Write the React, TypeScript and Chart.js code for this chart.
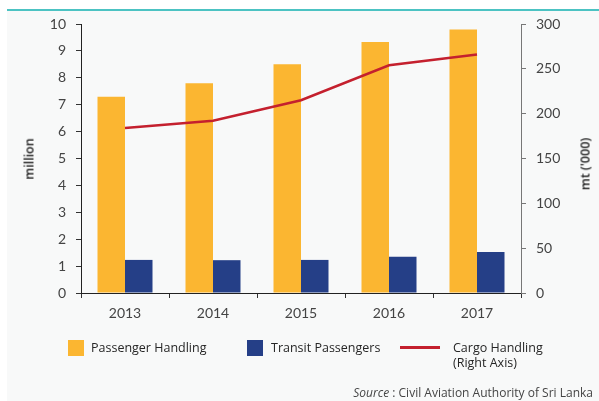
import React, { useEffect, useRef } from "react";
import { Chart, registerables } from "chart.js";

Chart.register(...registerables);

const categories = ["2013", "2014", "2015", "2016", "2017"];
const passengerHandling = [7.3, 7.8, 8.5, 9.33, 9.8];
const transitPassengers = [1.23, 1.22, 1.23, 1.35, 1.52];
const cargoHandling = [184, 192, 215, 254, 266];

const leftMax = 10;
const leftStep = 1;
const rightMax = 300;
const rightStep = 50;

const leftTitle = "million";
const rightTitle = "mt ('000)";
const legendLabels = ["Passenger Handling", "Transit Passengers", "Cargo Handling", "(Right Axis)"];
const sourceLabel = "Source";
const sourceText = " : Civil Aviation Authority of Sri Lanka";

const ORANGE = "#FBB631";
const NAVY = "#253F87";
const RED = "#C4202E";
const TICK_FONT = { family: "Lato, 'DejaVu Sans', sans-serif", size: 14 };
const UI_FONT = "'Open Sans', 'DejaVu Sans', sans-serif";

export default function App() {
  const canvasRef = useRef<HTMLCanvasElement | null>(null);

  useEffect(() => {
    const canvas = canvasRef.current;
    if (!canvas) return;
    const chart = new Chart(canvas, {
      type: "bar",
      data: {
        labels: categories,
        datasets: [
          {
            type: "line",
            label: "Cargo Handling",
            data: cargoHandling,
            yAxisID: "y1",
            borderColor: RED,
            backgroundColor: RED,
            borderWidth: 2.5,
            pointRadius: 0,
            tension: 0,
            order: 0,
          },
          {
            type: "bar",
            label: "Passenger Handling",
            data: passengerHandling,
            yAxisID: "y",
            backgroundColor: ORANGE,
            borderWidth: 0,
            categoryPercentage: 0.625,
            barPercentage: 1,
            order: 1,
          },
          {
            type: "bar",
            label: "Transit Passengers",
            data: transitPassengers,
            yAxisID: "y",
            backgroundColor: NAVY,
            borderWidth: 0,
            categoryPercentage: 0.625,
            barPercentage: 1,
            order: 1,
          },
        ],
      },
      options: {
        responsive: false,
        animation: false,
        devicePixelRatio: 1,
        layout: { padding: { top: 24, bottom: 78, left: 0, right: 0 } },
        plugins: { legend: { display: false }, tooltip: { enabled: false }, title: { display: false } },
        scales: {
          x: {
            offset: true,
            grid: { display: true, drawOnChartArea: false, drawTicks: true, tickLength: 5, color: "#333", offset: true },
            border: { display: true, color: "#222", width: 1 },
            ticks: { color: "#444", font: TICK_FONT, padding: 7, maxRotation: 0 },
            afterFit: (s: any) => { s.height = 30; },
          },
          y: {
            position: "left",
            min: 0,
            max: leftMax,
            ticks: { stepSize: leftStep, color: "#444", font: TICK_FONT, padding: 10 },
            grid: { display: true, drawOnChartArea: false, drawTicks: true, tickLength: 5, color: "#333" },
            border: { display: true, color: "#222", width: 1 },
            afterFit: (s: any) => { s.width = 81; },
          },
          y1: {
            position: "right",
            min: 0,
            max: rightMax,
            ticks: { stepSize: rightStep, color: "#444", font: TICK_FONT, padding: 10 },
            grid: { display: true, drawOnChartArea: false, drawTicks: true, tickLength: 5, color: "#777" },
            border: { display: true, color: "#777", width: 1 },
            afterFit: (s: any) => { s.width = 78; },
          },
        },
      },
    } as any);
    return () => chart.destroy();
  }, []);

  const legendText: React.CSSProperties = {
    position: "absolute",
    fontFamily: UI_FONT,
    fontSize: 12.5,
    color: "#262626",
    lineHeight: "15px",
    whiteSpace: "nowrap",
  };

  return (
    <div style={{ position: "absolute", left: 0, top: 0, width: 599, height: 401, background: "#fff", overflow: "hidden" }}>
      <div
        style={{
          position: "absolute",
          left: 7,
          top: 9,
          width: 592,
          height: 392,
          background: "#F8F9F9",
          borderTop: "2px solid #4CC3C3",
          boxSizing: "border-box",
        }}
      />
      <canvas ref={canvasRef} width={599} height={401} style={{ position: "absolute", left: 0, top: 0, width: 599, height: 401 }} />
      <div
        style={{
          position: "absolute",
          left: 29,
          top: 159,
          transform: "translate(-50%, -50%) rotate(-90deg)",
          fontFamily: UI_FONT,
          fontSize: 12.5,
          fontWeight: 600,
          color: "#222",
          whiteSpace: "nowrap",
        }}
      >
        {leftTitle}
      </div>
      <div
        style={{
          position: "absolute",
          left: 585,
          top: 164,
          transform: "translate(-50%, -50%) rotate(-90deg)",
          fontFamily: UI_FONT,
          fontSize: 12.5,
          fontWeight: 600,
          color: "#222",
          whiteSpace: "nowrap",
        }}
      >
        {rightTitle}
      </div>

      <div style={{ position: "absolute", left: 68, top: 340, width: 16, height: 16, background: ORANGE }} />
      <div style={{ ...legendText, left: 91, top: 340 }}>{legendLabels[0]}</div>
      <div style={{ position: "absolute", left: 247, top: 340, width: 16, height: 16, background: NAVY }} />
      <div style={{ ...legendText, left: 271, top: 340 }}>{legendLabels[1]}</div>
      <div style={{ position: "absolute", left: 400, top: 346, width: 40, height: 3, background: RED }} />
      <div style={{ ...legendText, left: 453, top: 340 }}>
        {legendLabels[2]}
        <br />
        {legendLabels[3]}
      </div>

      <div
        style={{
          position: "absolute",
          right: 6,
          top: 384,
          fontFamily: UI_FONT,
          fontSize: 12,
          color: "#444",
          whiteSpace: "nowrap",
        }}
      >
        <i>{sourceLabel}</i>
        {sourceText}
      </div>
    </div>
  );
}
